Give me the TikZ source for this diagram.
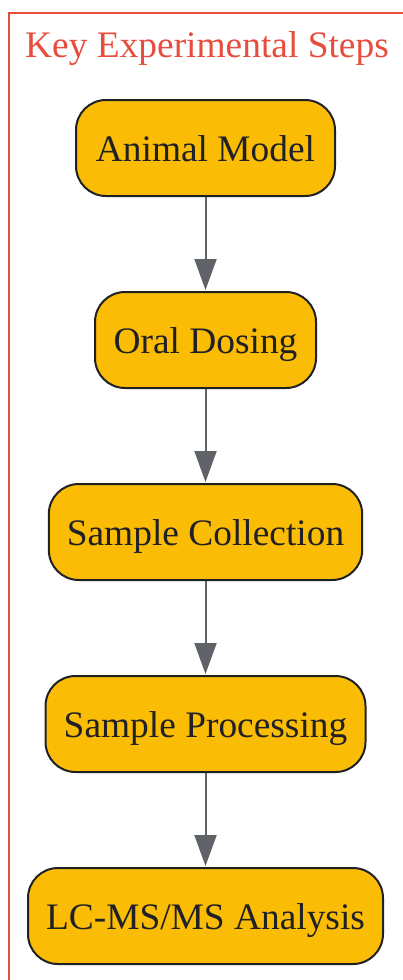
\documentclass[tikz,border=0pt]{standalone}
\usepackage{fontspec}
\setmainfont{Liberation Serif}
\usetikzlibrary{arrows.meta}
\definecolor{framered}{HTML}{E74C3C}
\definecolor{boxfill}{HTML}{FBBC05}
\definecolor{boxline}{HTML}{202124}
\definecolor{arrowgray}{HTML}{5F6368}
\tikzset{
  stepbox/.style={draw=boxline, line width=2pt, fill=boxfill, rounded corners=30pt,
    minimum height=96pt, inner xsep=18pt, text=boxline, text height=30pt, text depth=4pt,
    font=\fontsize{37.4}{42}\selectfont},
  flow/.style={draw=arrowgray, line width=2pt, -{Triangle[length=31pt,width=22pt]}, shorten >=1pt}
}
\begin{document}
\begin{tikzpicture}[x=1pt,y=-1pt]
\useasboundingbox (0,0) rectangle (402,980);
\draw[framered, line width=2pt] (9,13) rectangle (430,1010);
\node[text=framered, font=\fontsize{37.4}{42}\selectfont, anchor=base] (title) at (207,57) {Key Experimental Steps};
\node[stepbox, minimum width=259pt] (a) at (205.5,148) {Animal Model};
\node[stepbox, minimum width=221pt] (b) at (205.5,340) {Oral Dosing};
\node[stepbox, minimum width=313pt] (c) at (205.5,532) {Sample Collection};
\node[stepbox, minimum width=320pt] (d) at (205.5,724) {Sample Processing};
\node[stepbox, minimum width=353pt] (e) at (205.5,916) {LC-MS/MS Analysis};
\draw[flow] (a) -- (b);
\draw[flow] (b) -- (c);
\draw[flow] (c) -- (d);
\draw[flow] (d) -- (e);
\end{tikzpicture}
\end{document}
